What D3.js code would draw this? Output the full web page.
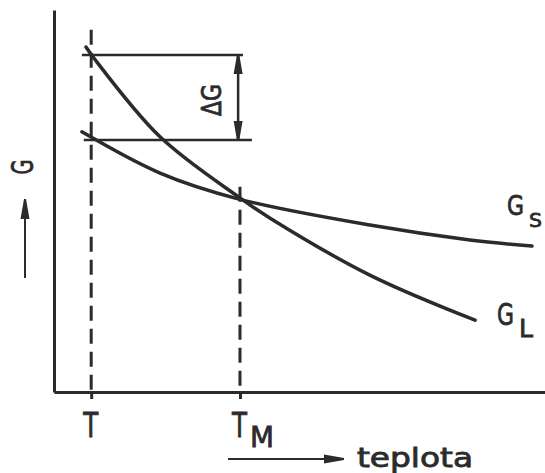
<!DOCTYPE html>
<html>
<head>
<meta charset="utf-8">
<script src="https://cdn.jsdelivr.net/npm/d3@7"></script>
<style>
  body { margin: 0; background: #fff; }
  svg { display: block; }
  text { font-family: "DejaVu Sans", sans-serif; fill: #2b2b2b; stroke: #2b2b2b; stroke-width: 0.8px; }
</style>
</head>
<body>
<svg width="545" height="473"></svg>
<script>
// marked temperatures on the x axis
const tickTemps = [1, 5];
const tickNames = ["T", "T"];
const tickSubs = ["", "M"];

// free enthalpy of the liquid (G_L)
const liquidT = [0.86, 1.05, 2.85, 4.97, 5.81, 8.49, 11.32];
const liquidG = [9.03, 8.77, 6.68, 5.10, 4.55, 3.06, 1.88];

// free enthalpy of the solid (G_S)
const solidT = [0.75, 2.85, 4.97, 8.49, 11.18, 12.85];
const solidG = [6.81, 5.73, 5.05, 4.37, 3.98, 3.82];

// the two G levels at T that bound delta G
const deltaLevels = [8.82, 6.60];

const ink = "#2b2b2b";
const svg = d3.select("svg");

const x = d3.scaleLinear().domain([0, 13.2]).range([54, 545]);
const y = d3.scaleLinear().domain([0, 10]).range([392, 10]);

// arrow heads
const defs = svg.append("defs");
defs.append("marker")
    .attr("id", "head")
    .attr("markerUnits", "userSpaceOnUse")
    .attr("viewBox", "0 -5 20 10")
    .attr("refX", 19).attr("refY", 0)
    .attr("markerWidth", 20).attr("markerHeight", 10)
    .attr("orient", "auto-start-reverse")
    .append("path")
    .attr("d", "M0,-4.5 L20,-1 L20,1 L0,4.5 Z")
    .attr("fill", ink);

// a letter with an optional subscript, in one text element
function subLabel(px, py, main, sub, size, mainLen, subSize, subLen, gap, drop) {
    const t = svg.append("text").attr("x", px).attr("y", py);
    t.append("tspan")
        .style("font-size", size + "px")
        .attr("textLength", mainLen)
        .attr("lengthAdjust", "spacingAndGlyphs")
        .text(main);
    if (sub) {
        t.append("tspan")
            .attr("dx", gap).attr("dy", drop)
            .style("font-size", subSize + "px")
            .attr("textLength", subLen)
            .attr("lengthAdjust", "spacingAndGlyphs")
            .text(sub);
    }
    return t;
}

// dashed verticals at T and T_M
const dashTop = [9.48, 5.37];
svg.selectAll(".drop")
    .data(tickTemps)
    .enter().append("line")
    .attr("class", "drop")
    .attr("x1", d => x(d)).attr("x2", d => x(d))
    .attr("y1", (d, i) => y(dashTop[i]))
    .attr("y2", y(0))
    .attr("stroke", ink)
    .attr("stroke-width", 3)
    .attr("stroke-dasharray", "15 8");

// axes
const xAxis = svg.append("g")
    .attr("transform", `translate(0,${y(0)})`)
    .call(d3.axisBottom(x).tickValues(tickTemps).tickFormat("").tickSize(7).tickSizeOuter(0));
const yAxis = svg.append("g")
    .attr("transform", `translate(${x(0)},0)`)
    .call(d3.axisLeft(y).tickValues([]).tickSizeOuter(0));
[xAxis, yAxis].forEach(g => {
    g.selectAll("path, line").attr("stroke", ink).attr("stroke-width", 3);
});

// tick labels T and T_M
tickTemps.forEach((t, i) => {
    subLabel(x(t) - 8, 437, tickNames[i], tickSubs[i], 34, 15, 28, 24, 3, 10);
});

// horizontal levels for delta G
const levelStart = [0.75, 0.80];
const levelEnd = [5.08, 5.32];
svg.selectAll(".level")
    .data(deltaLevels)
    .enter().append("line")
    .attr("class", "level")
    .attr("x1", (d, i) => x(levelStart[i]))
    .attr("x2", (d, i) => x(levelEnd[i]))
    .attr("y1", d => y(d)).attr("y2", d => y(d))
    .attr("stroke", ink)
    .attr("stroke-width", 2.5);

// double arrow for delta G
svg.append("line")
    .attr("x1", x(4.95)).attr("x2", x(4.95))
    .attr("y1", y(deltaLevels[0])).attr("y2", y(deltaLevels[1]))
    .attr("stroke", ink).attr("stroke-width", 2.5)
    .attr("marker-start", "url(#head)")
    .attr("marker-end", "url(#head)");

svg.append("text")
    .attr("transform", `translate(221,100) rotate(-90)`)
    .attr("text-anchor", "middle")
    .style("font-size", "26px")
    .attr("textLength", 32)
    .attr("lengthAdjust", "spacingAndGlyphs")
    .text("ΔG");

// the two curves
const line = d3.line()
    .x(d => x(d[0]))
    .y(d => y(d[1]))
    .curve(d3.curveCatmullRom);

const curves = [d3.zip(liquidT, liquidG), d3.zip(solidT, solidG)];
svg.selectAll(".curve")
    .data(curves)
    .enter().append("path")
    .attr("class", "curve")
    .attr("d", line)
    .attr("fill", "none")
    .attr("stroke", ink)
    .attr("stroke-width", 3.5)
    .attr("stroke-linecap", "round");

// curve labels G_L and G_S
const lastL = liquidT.length - 1, lastS = solidT.length - 1;
subLabel(x(liquidT[lastL]) + 22, y(liquidG[lastL]) + 5, "G", "L", 31, 17, 24, 14, 5, 12);
subLabel(x(solidT[lastS]) - 25, y(solidG[lastS]) - 31, "G", "S", 27, 17, 20, 13, 5, 12);

// axis title G with arrow up
svg.append("text")
    .attr("transform", "translate(33,167) rotate(-90)")
    .attr("text-anchor", "middle")
    .style("font-size", "31px")
    .attr("textLength", 15)
    .attr("lengthAdjust", "spacingAndGlyphs")
    .text("G");
svg.append("line")
    .attr("x1", 25).attr("x2", 25)
    .attr("y1", 278).attr("y2", 200)
    .attr("stroke", ink).attr("stroke-width", 2)
    .attr("marker-end", "url(#head)");

// axis title teplota with arrow right
svg.append("line")
    .attr("x1", 228).attr("x2", 343)
    .attr("y1", 459).attr("y2", 459)
    .attr("stroke", ink).attr("stroke-width", 1.8)
    .attr("marker-end", "url(#head)");
svg.append("text")
    .attr("x", 357).attr("y", 467)
    .style("font-size", "26px")
    .attr("textLength", 116)
    .attr("lengthAdjust", "spacingAndGlyphs")
    .text("teplota");
</script>
</body>
</html>
